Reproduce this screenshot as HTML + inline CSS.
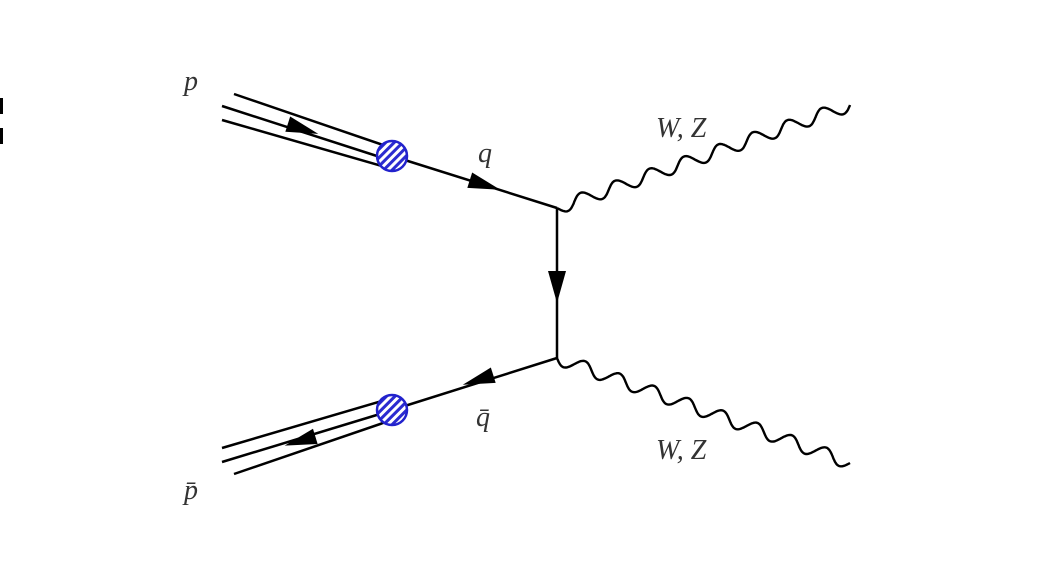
<!DOCTYPE html>
<html><head><meta charset="utf-8"><style>
html,body{margin:0;padding:0;background:#fff;width:1056px;height:578px;overflow:hidden}
svg{display:block}
text{font-family:"Liberation Serif",serif;font-style:italic;font-size:28px;fill:#333}
</style></head><body>
<svg width="1056" height="578" viewBox="0 0 1056 578">
<defs>
<pattern id="hatch" patternUnits="userSpaceOnUse" width="6" height="6" patternTransform="rotate(45)">
<rect width="6" height="6" fill="#fff"/><rect width="3" height="6" fill="#2b2bd0"/>
</pattern>
</defs>
<rect x="0" y="98" width="3" height="16" fill="#000"/>
<rect x="0" y="128" width="3" height="16" fill="#000"/>
<g stroke="#000" stroke-width="2.5" fill="none">
<line x1="234" y1="94" x2="386" y2="146"/>
<line x1="222" y1="106" x2="380" y2="157"/>
<line x1="222" y1="120" x2="382" y2="166"/>
<line x1="392" y1="156" x2="557" y2="208"/>
</g>
<g stroke="#000" stroke-width="2.5" fill="none">
<line x1="222" y1="448" x2="382" y2="401"/>
<line x1="222" y1="462" x2="380" y2="414"/>
<line x1="234" y1="474" x2="386" y2="422"/>
<line x1="392" y1="410" x2="557" y2="358"/>
</g>
<line x1="557" y1="208" x2="557" y2="358" stroke="#000" stroke-width="2.5"/>
<polygon id="a1" fill="#000"/>
<polygon id="a2" fill="#000"/>
<polygon id="a3" fill="#000"/>
<polygon id="a4" fill="#000"/>
<polygon id="a5" fill="#000"/>
<circle cx="392" cy="156" r="15" fill="url(#hatch)" stroke="#2222cc" stroke-width="2.5"/>
<circle cx="392" cy="410" r="15" fill="url(#hatch)" stroke="#2222cc" stroke-width="2.5"/>
<path id="w1" fill="none" stroke="#000" stroke-width="2.4"/>
<path id="w2" fill="none" stroke="#000" stroke-width="2.4"/>
<text x="184" y="90">p</text>
<text x="478" y="162">q</text>
<text x="656" y="137">W, Z</text>
<text x="476" y="426">q̄</text>
<text x="656" y="459">W, Z</text>
<text x="184" y="499">p̄</text>
</svg>
<script>
function wave(id,x1,y1,x2,y2,n,a){
  var dx=x2-x1,dy=y2-y1,L=Math.hypot(dx,dy),ux=dx/L,uy=dy/L,nx=-uy,ny=ux,d='';
  for(var i=0;i<=400;i++){var t=i/400,s=Math.sin(t*n*2*Math.PI)*a;
    var x=x1+dx*t+nx*s,y=y1+dy*t+ny*s;d+=(i?'L':'M')+x.toFixed(1)+' '+y.toFixed(1);}
  document.getElementById(id).setAttribute('d',d);
}
function arrow(id,cx,cy,dx,dy,len,hw){
  var L=Math.hypot(dx,dy),ux=dx/L,uy=dy/L,nx=-uy,ny=ux;
  var tx=cx+ux*len/2,ty=cy+uy*len/2,bx=cx-ux*len/2,by=cy-uy*len/2;
  document.getElementById(id).setAttribute('points',
    tx+','+ty+' '+(bx+nx*hw)+','+(by+ny*hw)+' '+(bx-nx*hw)+','+(by-ny*hw));
}
wave('w1',557,208,850,105,8.5,6.5);
wave('w2',557,358,850,463,8.5,6.5);
arrow('a1',303,129,158,50,32,8);
arrow('a2',485,185,165,52,32,8);
arrow('a3',557,287,0,1,32,9);
arrow('a4',478,380,-165,52,32,8);
arrow('a5',300,441,-158,48,32,8);
</script>
</body></html>
